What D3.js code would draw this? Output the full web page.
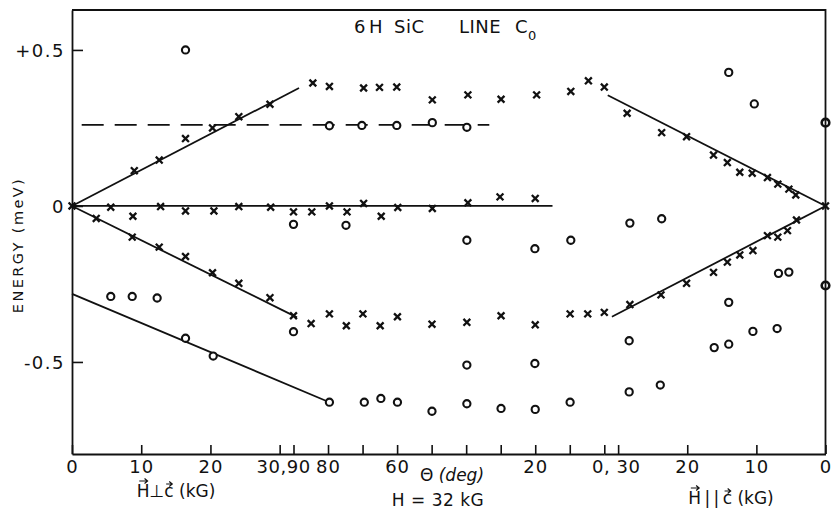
<!DOCTYPE html>
<html>
<head>
<meta charset="utf-8">
<script src="https://cdn.jsdelivr.net/npm/d3@7"></script>
<style>
  html, body { margin: 0; padding: 0; background: #fff; }
  svg { display: block; }
  text { font-family: "DejaVu Sans", sans-serif; fill: #111; }
</style>
</head>
<body>
<svg id="chart" width="835" height="513"></svg>
<script>
// Zeeman splitting of the 6H SiC C0 line: energy vs H⊥c field, rotation angle at 32 kG, and H∥c field.

// x-axis tick values and labels for each of the three panels
const perpTicks = [0, 10, 20, 30];
const perpLabels = ["0", "10", "20", ""];
const angleTicks = [90, 80, 70, 60, 50, 40, 30, 20, 10, 0];
const angleLabels = ["", "80", "", "60", "", "", "", "20", "", ""];
const parTicks = [30, 20, 10, 0];
const parLabels = ["", "20", "10", "0"];
const yTicks = [-0.5, 0, 0.5];
const yLabels = ["-0.5", "0", "+0.5"];

// H ⊥ c (kG, meV)
const perpCross = [
  [3.5, -0.04], [5.6, -0.004], [8.8, -0.033], [9.0, 0.113], [8.7, -0.1],
  [12.8, -0.002], [12.6, 0.147], [12.6, -0.132], [16.4, -0.016], [16.4, 0.216],
  [16.4, -0.162], [20.5, -0.016], [20.3, 0.25], [20.3, -0.214], [24.1, -0.002],
  [24.1, 0.286], [24.1, -0.248], [28.7, -0.004], [28.6, 0.326], [28.6, -0.294]
];
const perpCircle = [
  [16.4, 0.5], [5.6, -0.29], [8.7, -0.29], [12.3, -0.295], [16.4, -0.424], [20.4, -0.481]
];

// rotation angle θ at H = 32 kG (deg, meV)
const angleCross = [
  [84.4, 0.394], [79.6, 0.383], [69.7, 0.378], [65.1, 0.38], [60.1, 0.381],
  [49.8, 0.34], [39.5, 0.356], [29.9, 0.342], [19.6, 0.356], [9.7, 0.367], [4.6, 0.401], [0, 0.381],
  [90, -0.019], [84.7, -0.019], [79.6, 0], [74.5, -0.019], [69.7, 0.008], [64.6, -0.033],
  [59.8, -0.005], [49.8, -0.008], [39.5, 0.01], [30.2, 0.029], [20, 0.024],
  [90, -0.352], [84.9, -0.377], [79.6, -0.346], [74.7, -0.384], [69.9, -0.346], [64.9, -0.384],
  [59.9, -0.355], [49.9, -0.379], [39.8, -0.373], [29.9, -0.352], [20, -0.381], [9.9, -0.346],
  [4.8, -0.346], [0, -0.341]
];
const angleCircle = [
  [90, -0.059], [74.8, -0.062], [79.6, 0.257], [70.2, 0.258], [60.1, 0.258], [49.8, 0.267],
  [39.8, 0.252], [39.8, -0.11], [20.1, -0.137], [9.7, -0.11], [90, -0.403], [39.8, -0.51],
  [20.1, -0.505], [79.6, -0.629], [69.5, -0.629], [64.7, -0.617], [59.9, -0.629], [49.9, -0.658],
  [39.8, -0.634], [29.9, -0.649], [20, -0.652], [9.9, -0.629]
];

// H ∥ c (kG, meV)
const parCross = [
  [28.7, 0.297], [23.7, 0.235], [20.1, 0.222], [16.2, 0.163], [14.2, 0.139], [12.4, 0.108],
  [10.6, 0.105], [8.4, 0.091], [6.9, 0.07], [5.3, 0.054], [4.3, 0.035], [0, 0],
  [28.3, -0.316], [23.8, -0.285], [20.1, -0.248], [16.2, -0.213], [14.2, -0.18], [12.4, -0.157],
  [10.5, -0.143], [8.4, -0.095], [6.9, -0.1], [5.5, -0.079], [4.2, -0.045]
];
const parCircle = [
  [28.3, -0.055], [23.7, -0.041], [14.0, 0.428], [10.3, 0.327], [28.4, -0.432], [28.4, -0.596],
  [23.9, -0.574], [14.0, -0.309], [16.1, -0.454], [14.0, -0.443], [10.5, -0.402], [7.0, -0.393],
  [6.8, -0.216], [5.3, -0.212]
];
const parHeavyCircle = [[0, 0.267], [0, -0.255]];
const originCross = [[0, 0]];

// fitted lines: [panel, x value, energy] pairs
const solidLines = [
  [["perp", 0, 0], ["ang", 88.4, 0.378]],
  [["perp", 0, 0], ["ang", 15, 0]],
  [["perp", 0, 0], ["ang", 89, -0.357]],
  [["perp", 0, -0.282], ["ang", 79.6, -0.629]],
  [["par", 31.5, 0.355], ["par", 0, 0]],
  [["par", 30.9, -0.355], ["par", 0, 0]]
];
const dashedLines = [
  [["perp", 1.4, 0.26], ["ang", 33.3, 0.26]]
];

const svg = d3.select("#chart");
const ink = "#111";

const xPerp = d3.scaleLinear().domain([0, 32]).range([72, 293.5]);
const xAng = d3.scaleLinear().domain([90, 0]).range([293.5, 604.3]);
const xPar = d3.scaleLinear().domain([32, 0]).range([604.3, 825.5]);
const y = d3.scaleLinear().domain([-0.795, 0.628]).range([454, 10]);
const xScales = { perp: xPerp, ang: xAng, par: xPar };
const px = (seg, v) => xScales[seg](v);

const plotTop = y(0.628), plotBottom = y(-0.795);
const plotLeft = xPerp(0), plotRight = xPar(0);

// frame: top and right borders
svg.append("path")
  .attr("d", `M${plotLeft},${plotTop}H${plotRight}V${plotBottom}`)
  .attr("fill", "none").attr("stroke", ink).attr("stroke-width", 1.8);

// y axis with inward ticks
const yAxis = svg.append("g")
  .attr("transform", `translate(${plotLeft},0)`)
  .call(d3.axisLeft(y).tickValues(yTicks).tickSizeInner(-11).tickSizeOuter(0)
    .tickPadding(20).tickFormat((d, i) => yLabels[i]));
yAxis.select(".domain").attr("stroke", ink).attr("stroke-width", 1.8);
yAxis.selectAll(".tick line").attr("stroke", ink).attr("stroke-width", 1.6);
yAxis.selectAll(".tick text")
  .attr("x", -7).attr("dy", "0.35em")
  .style("font-size", "18px").style("letter-spacing", "1.5px").attr("fill", ink);

// x axis: three panels sharing one baseline, ticks pointing up
function bottomAxis(scale, ticks, labels) {
  const g = svg.append("g")
    .attr("transform", `translate(0,${plotBottom})`)
    .call(d3.axisBottom(scale).tickValues(ticks).tickSizeInner(-9).tickSizeOuter(0)
      .tickPadding(12).tickFormat((d, i) => labels[i]));
  g.select(".domain").attr("stroke", ink).attr("stroke-width", 1.8);
  g.selectAll(".tick line").attr("stroke", ink).attr("stroke-width", 1.6);
  g.selectAll(".tick text")
    .attr("y", 13).attr("dy", "0.35em")
    .style("font-size", "18px").style("letter-spacing", "1px").attr("fill", ink);
  return g;
}
bottomAxis(xPerp, perpTicks, perpLabels);
bottomAxis(xAng, angleTicks, angleLabels);
bottomAxis(xPar, parTicks, parLabels);

// joint labels where panels meet
const labelY = plotBottom + 13;
svg.append("text").attr("x", (xPerp(30) + xAng(90)) / 2 - 3).attr("y", labelY).attr("dy", "0.35em")
  .attr("text-anchor", "middle").style("font-size", "18px").style("letter-spacing", "0.5px").text("30,90");
svg.append("text").attr("x", (xAng(0) + xPar(30)) / 2 + 5).attr("y", labelY).attr("dy", "0.35em")
  .attr("text-anchor", "middle").style("font-size", "18px").style("letter-spacing", "0.5px").text("0, 30");

// θ (deg) label in the angle panel
const thetaLabel = svg.append("text").attr("x", 452).attr("y", plotBottom + 27)
  .attr("text-anchor", "middle").style("font-size", "17px");
thetaLabel.append("tspan").text("Θ ");
thetaLabel.append("tspan").style("font-style", "italic").text("(deg)");

svg.append("text").attr("x", 438).attr("y", plotBottom + 52)
  .attr("text-anchor", "middle").style("font-size", "17px").style("letter-spacing", "0.5px")
  .text("H = 32 kG");

// field-direction labels with vector arrows over H and c
function vectorLabel(cx, baseline, parts) {
  const g = svg.append("g");
  const nodes = parts.map(p => g.append("text").attr("y", baseline)
    .style("font-size", "17px").style("white-space", "pre").text(p.t));
  const widths = nodes.map(n => n.node().getComputedTextLength());
  const total = d3.sum(widths);
  let x = cx - total / 2;
  nodes.forEach((n, i) => {
    n.attr("x", x);
    if (parts[i].arrow) {
      const w = widths[i];
      const ay = baseline - (parts[i].t === "H" ? 16 : 13);
      const x0 = x + w * 0.2, x1 = x + w * 0.85;
      g.append("path")
        .attr("d", `M${x0},${ay}H${x1}M${x1 - 3},${ay - 2.5}L${x1},${ay}L${x1 - 3},${ay + 2.5}`)
        .attr("fill", "none").attr("stroke", ink).attr("stroke-width", 1.2);
    }
    x += widths[i];
  });
}
vectorLabel(176, 497, [{ t: "H", arrow: true }, { t: "⊥" }, { t: "c", arrow: true }, { t: "\u00A0(kG)" }]);
vectorLabel(731, 504, [{ t: "H", arrow: true }, { t: "\u2009|\u2009|\u2009" }, { t: "c", arrow: true }, { t: "\u00A0(kG)" }]);

// y-axis title
svg.append("text")
  .attr("transform", "translate(23,245) rotate(-90)")
  .attr("text-anchor", "middle")
  .style("font-size", "14.5px").style("letter-spacing", "2.4px")
  .text("ENERGY (meV)");

// title
const title = svg.append("text").attr("x", 354).attr("y", 33)
  .style("font-size", "18px").style("letter-spacing", "0.5px");
title.append("tspan").text("6");
title.append("tspan").attr("x", 369).text("H");
title.append("tspan").attr("x", 394).text("SiC");
title.append("tspan").attr("x", 459).text("LINE");
title.append("tspan").attr("x", 515).text("C");
title.append("tspan").attr("dy", 7).style("font-size", "13px").text("0");

// fitted lines
const lineGen = d3.line().x(d => px(d[0], d[1])).y(d => y(d[2]));
svg.append("g").selectAll("path").data(solidLines).join("path")
  .attr("d", lineGen).attr("fill", "none").attr("stroke", ink).attr("stroke-width", 1.8);
svg.append("g").selectAll("path").data(dashedLines).join("path")
  .attr("d", lineGen).attr("fill", "none").attr("stroke", ink).attr("stroke-width", 1.8)
  .attr("stroke-dasharray", "22,11");

// markers
const crossPath = (cx, cy, s) => `M${cx - s},${cy - s}L${cx + s},${cy + s}M${cx - s},${cy + s}L${cx + s},${cy - s}`;
function drawCrosses(data, seg) {
  svg.append("g").selectAll("path").data(data).join("path")
    .attr("d", d => crossPath(px(seg, d[0]), y(d[1]), 3.4))
    .attr("fill", "none").attr("stroke", ink).attr("stroke-width", 2.3);
}
function drawCircles(data, seg, r, sw) {
  svg.append("g").selectAll("circle").data(data).join("circle")
    .attr("cx", d => px(seg, d[0])).attr("cy", d => y(d[1])).attr("r", r)
    .attr("fill", "#fff").attr("stroke", ink).attr("stroke-width", sw);
}
drawCircles(perpCircle, "perp", 3.6, 2.1);
drawCircles(angleCircle, "ang", 3.6, 2.1);
drawCircles(parCircle, "par", 3.6, 2.1);
drawCircles(parHeavyCircle, "par", 3.8, 2.6);
svg.append("g").selectAll("line").data(parHeavyCircle).join("line")
  .attr("x1", d => px("par", d[0])).attr("x2", d => px("par", d[0]))
  .attr("y1", d => y(d[1]) - 4).attr("y2", d => y(d[1]) + 4)
  .attr("stroke", ink).attr("stroke-width", 1.8);
drawCrosses(perpCross, "perp");
drawCrosses(angleCross, "ang");
drawCrosses(parCross, "par");
drawCrosses(originCross, "perp");
</script>
</body>
</html>
